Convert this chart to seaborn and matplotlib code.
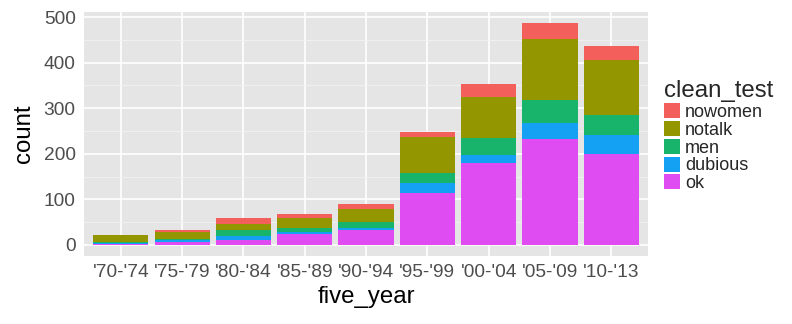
import matplotlib
matplotlib.use("Agg")
import matplotlib.pyplot as plt
import seaborn as sns
import pandas as pd
import numpy as np

five_year = ["'70-'74", "'75-'79", "'80-'84", "'85-'89", "'90-'94",
             "'95-'99", "'00-'04", "'05-'09", "'10-'13"]
levels = ["nowomen", "notalk", "men", "dubious", "ok"]
ok      = [3, 7, 11, 23, 33, 115, 179, 233, 199]
dubious = [2, 4, 9, 6, 5, 20, 19, 35, 42]
men     = [2, 3, 12, 9, 13, 23, 36, 51, 45]
notalk  = [14, 14, 15, 21, 27, 79, 91, 132, 121]
nowomen = [0, 4, 12, 9, 12, 10, 28, 36, 30]
colors = ["#F35F5A", "#949600", "#19B46C", "#14A1F4", "#DF4CF2"]

series = {"ok": ok, "dubious": dubious, "men": men, "notalk": notalk, "nowomen": nowomen}
rows = []
for lev in levels:
    for fy, v in zip(five_year, series[lev]):
        rows.append({"five_year": fy, "clean_test": lev, "count": v})
df = pd.DataFrame(rows)
df["five_year"] = pd.Categorical(df["five_year"], categories=five_year, ordered=True)

sns.set_theme(style="darkgrid")
plt.rcParams["font.family"] = ["Liberation Sans", "DejaVu Sans"]

fig = plt.figure(figsize=(7.92, 3.24), dpi=100)
ax = fig.add_axes([84/792, 1-256/324, (648-84)/792, (256-12)/324])

sns.histplot(data=df, x="five_year", weights="count", hue="clean_test",
             hue_order=levels, palette=colors, multiple="stack",
             discrete=True, shrink=0.9, linewidth=0, alpha=1, ax=ax)

ax.set_facecolor("#E5E5E5")
for s in ax.spines.values():
    s.set_visible(False)
ax.set_xlim(-0.6, 8.6)
ax.set_ylim(-24.35, 511.35)
ax.set_yticks([0, 100, 200, 300, 400, 500])
ax.set_yticks([50, 150, 250, 350, 450], minor=True)
ax.set_xticks(range(len(five_year)))
ax.set_xticklabels(five_year)
ax.grid(True, which="major", color="white", linewidth=1.2)
ax.grid(True, which="minor", axis="y", color="#F2F2F2", linewidth=0.6)
ax.set_axisbelow(True)
ax.tick_params(axis="both", which="major", length=3.5, width=0.8, color="#333333",
               labelsize=13.8, labelcolor="#4D4D4D", pad=2.5)
ax.tick_params(axis="both", which="minor", length=0)
ax.set_xlabel("five_year", fontsize=17.3, color="black", labelpad=3)
ax.set_ylabel("count", fontsize=17.3, color="black", labelpad=6)

leg = ax.get_legend()
handles = leg.legend_handles
leg.remove()
lg = fig.legend(handles, levels, title="clean_test", loc="upper left",
                bbox_to_anchor=(664/792, 1-80/324), frameon=False,
                fontsize=13.0, title_fontsize=17.3, handlelength=0.9,
                handleheight=0.9, labelspacing=0.0, handletextpad=0.25,
                borderpad=0, borderaxespad=0)
lg._legend_box.align = "left"
lg._legend_box.sep = 1

fig.savefig("out.png", dpi=100)
